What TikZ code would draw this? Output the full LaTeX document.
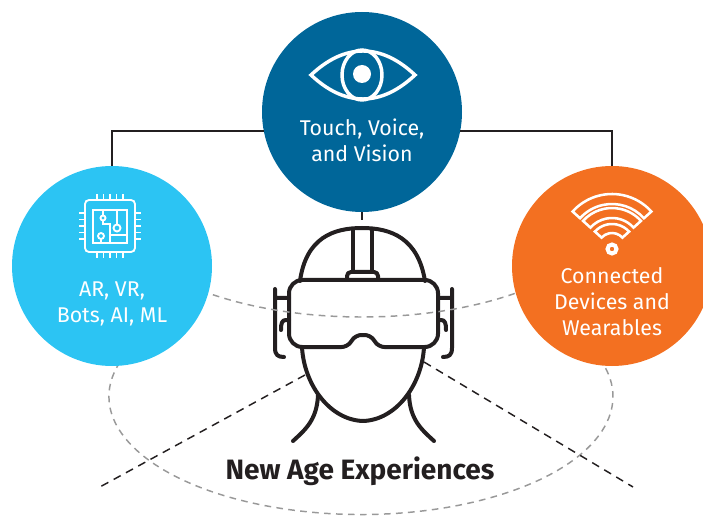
\documentclass[tikz,border=0pt]{standalone}
\usepackage{fontspec}
\setmainfont{Fira Sans}

\definecolor{visblue}{RGB}{0,102,153}
\definecolor{aiblue}{RGB}{44,196,243}
\definecolor{iotorange}{RGB}{243,112,33}
\definecolor{ink}{RGB}{35,31,32}

\tikzset{
  hub/.style={circle,minimum size=150pt,inner sep=0pt},
  caption/.style={text=white,font=\fontsize{16}{19.5}\selectfont,align=center},
  icon/.style={draw=white,line width=2.6pt},
  thin icon/.style={draw=white,line width=1.4pt},
  link/.style={draw=ink,line width=1.5pt},
  cue/.style={draw=ink,line width=1.1pt,dash pattern=on 6pt off 4.5pt},
  orbit/.style={draw=black!40,line width=1.1pt,dash pattern=on 5pt off 4pt},
  head/.style={draw=ink,line width=3pt,line cap=round,line join=round}
}

\begin{document}
\begin{tikzpicture}[x=0.75pt,y=-0.75pt]
\clip (0,0) rectangle (703,520);

% head with headset
\draw[head] (300,281) .. controls (306,238) and (333,228) .. (362,228)
  .. controls (391,228) and (418,238) .. (425,281);
\draw[head] (353,230) -- (353,272) (372,230) -- (372,272);
\draw[head,rounded corners=3] (347,280) -- (347,272) -- (378,272) -- (378,280);
\draw[head] (363,280) [rounded corners=10] -- (438,280) -- (438,347)
  [rounded corners=4] -- (379,347) -- (370,335) -- (356,335) -- (347,347)
  [rounded corners=10] -- (289,347) -- (289,280) -- cycle;
\draw[head] (302,347) .. controls (304,385) and (330,420) .. (363,421)
  .. controls (396,420) and (422,385) .. (424,347);
\foreach \s in {1,-1}
  \draw[head,shift={(363.5,0)},xscale=\s]
    (-88.5,289) -- (-88.5,348) .. controls (-88.5,355) and (-85.5,357) .. (-79.5,357)
    (-88.5,298) -- (-74.5,298)
    (-74.5,320) -- (-77.5,320) .. controls (-81.5,320) and (-82.5,323) .. (-82.5,330)
    (-45.5,395) .. controls (-46.5,420) and (-58.5,430) .. (-70.5,441);

% the two rings
\draw[orbit] (112,204) arc[start angle=180,end angle=0,x radius=250,y radius=113];
\draw[orbit] (120,362) arc[start angle=197,end angle=-17,x radius=252,y radius=118];

% hubs
\node[hub,fill=visblue] (vis) at (362,112) {};
\node[hub,fill=aiblue] (ai) at (112,266) {};
\node[hub,fill=iotorange] (iot) at (612,266) {};

\draw[link] (vis.191) -| (ai);
\draw[link] (vis.-11) -| (iot);

\coordinate (crown) at (362,228);
\coordinate (cheekL) at (305,375);
\coordinate (cheekR) at (424,362);
\coordinate (farL) at (98,488);
\coordinate (farR) at (633,487);
\draw[cue] (vis.south) -- (crown);
\draw[cue] (cheekL) -- (farL);
\draw[cue] (cheekR) -- (farR);

% eye
\draw[icon] (311,75) .. controls (345,43) and (381,43) .. (415,75)
  .. controls (381,107) and (345,107) .. (311,75) -- cycle;
\draw[icon] (362,75) ellipse [x radius=20,y radius=25];
\fill[white] (362,74) circle [radius=9];

% chip
\draw[thin icon,rounded corners=3] (85,200) rectangle (135,252);
\draw[thin icon] (93,210) rectangle (127,243);
\foreach \p in {97,103.5,110,116.5,123}
  \draw[thin icon] (\p,194) -- (\p,200) (\p,252) -- (\p,258);
\foreach \p in {213,219.5,226,232.5,239}
  \draw[thin icon] (79,\p) -- (85,\p) (135,\p) -- (141,\p);
\draw[thin icon] (103,210) -- (103,215.5) (103,220.5) -- (103,224) -- (110,224) -- (110,243)
  (117,210) -- (117,224.5) (110,235) -- (127,235) (101,239) -- (101,243);
\draw[thin icon] (103,218) circle [radius=2.5] (117,228) circle [radius=3.5]
  (101,236) circle [radius=3];

% wifi
\foreach \r/\q in {53/43,39/29,23/14}
  \draw[icon,line width=1.9pt,shift={(612,247)}] (222:\r) arc[start angle=222,end angle=318,radius=\r]
    -- (318:\q) arc[start angle=318,end angle=222,radius=\q] -- cycle;
\draw[icon,line width=3pt] (612,249) circle [radius=4.5];

% captions
\node[caption] (visText) at (362,140) {Touch, Voice,\\and Vision};
\node[caption] (aiText) at (112,304) {AR, VR,\\Bots, AI, ML};
\node[caption] (iotText) at (612,302) {Connected\\Devices and\\Wearables};
\node[font=\fontsize{21}{24}\selectfont\bfseries,text=ink,anchor=base] (title)
  at (360,479) {New Age Experiences};
\end{tikzpicture}
\end{document}
